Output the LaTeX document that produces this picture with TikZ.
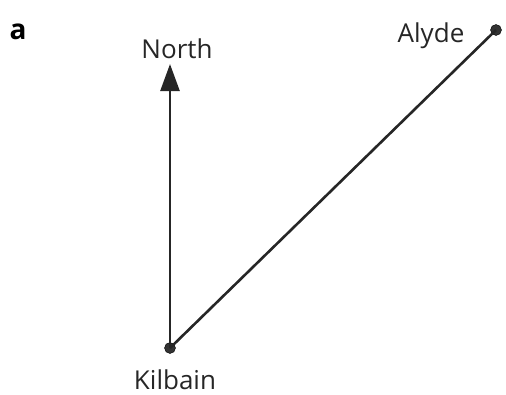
\documentclass[tikz,border=0pt]{standalone}
\usepackage{fontspec}
\setmainfont{Open Sans}
\usetikzlibrary{arrows.meta}
\begin{document}
\begin{tikzpicture}[x=1pt,y=-1pt,
  lbl/.style={font=\fontsize{26}{28}\selectfont, inner sep=0pt, text=black!85, anchor=base},
  dot/.style={circle, fill=black!80, draw=black, minimum size=11pt, inner sep=0pt},
  conn/.style={line width=2.6pt, black!85}]
\useasboundingbox (0,0) rectangle (506,394);
\node[font=\bfseries\fontsize{28}{30}\selectfont, inner sep=0pt, anchor=base] (a) at (18,39) {a};
\node[dot] (K) at (170,348) {};
\node[dot] (A) at (496,30) {};
\coordinate (N) at (170,64);
\node[lbl] (north) at (177,58) {North};
\node[lbl] (alyde) at (431,42) {Alyde};
\node[lbl] (kil) at (175,389) {Kilbain};
\draw[conn, -{Triangle[length=27pt,width=19pt]}] (K.center) -- (N);
\draw[conn] (K.center) -- (A.center);
\end{tikzpicture}
\end{document}
